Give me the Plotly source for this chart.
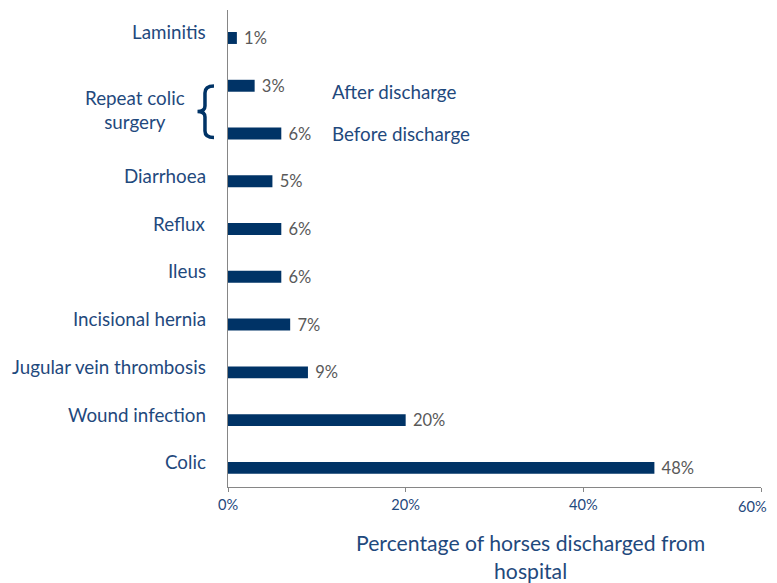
import plotly.graph_objects as go

# Data (top to bottom as shown)
categories = ["Laminitis", "After discharge", "Before discharge", "Diarrhoea", "Reflux",
              "Ileus", "Incisional hernia", "Jugular vein thrombosis", "Wound infection", "Colic"]
left_labels = ["Laminitis", "", "", "Diarrhoea", "Reflux",
               "Ileus", "Incisional hernia", "Jugular vein thrombosis", "Wound infection", "Colic"]
values = [1, 3, 6, 5, 6, 6, 7, 9, 20, 48]
group_label = "Repeat colic<br>surgery"
group_sub_labels = ["After discharge", "Before discharge"]
x_ticks = [0, 20, 40, 60]
x_title = "Percentage of horses discharged from<br>hospital"

BAR = "#003366"
TXT = "#1F497D"
GREY = "#595959"
FONT = "Lato"

# the page body adds an 8px offset; compensate so the plot lands at the reference pixels
OFF = 8
L, R, T, B = 228 - OFF, 16, 10 - OFF, 96

n = len(categories)
ypos = [n - 1 - i for i in range(n)]

fig = go.Figure()
fig.add_trace(go.Bar(
    x=values, y=ypos, orientation="h", width=0.25,
    marker=dict(color=BAR, line=dict(width=0)),
    text=[f"\u00a0{v}%" for v in values], textposition="outside", constraintext="none",
    textfont=dict(family=FONT, size=16.5, color=GREY),
    cliponaxis=False, hoverinfo="skip",
))

annotations = []
for lab, y in zip(left_labels, ypos):
    if lab:
        annotations.append(dict(x=0, xref="paper", y=y, yref="y", text=lab, showarrow=False,
                                xanchor="right", yanchor="middle", xshift=-20, yshift=6,
                                font=dict(family=FONT, size=18.8, color=TXT)))
# group label
annotations.append(dict(x=0, xref="paper", y=(ypos[1] + ypos[2]) / 2, yref="y", text=group_label,
                        showarrow=False, xanchor="right", yanchor="middle", xshift=-41, align="center",
                        font=dict(family=FONT, size=18.8, color=TXT)))
# sub labels
for lab, y, ys in zip(group_sub_labels, [ypos[1], ypos[2]], [-6, 0]):
    annotations.append(dict(x=0.191, xref="paper", y=y, yref="y", text=lab, showarrow=False,
                            xanchor="left", yanchor="middle", yshift=ys,
                            font=dict(family=FONT, size=18.8, color=TXT)))
# x-axis title
annotations.append(dict(x=0.567, xref="paper", y=-0.147, yref="paper", text=x_title, showarrow=False,
                        xanchor="center", yanchor="middle", align="center",
                        font=dict(family=FONT, size=21.2, color=TXT)))

# last tick label drawn as an annotation so it stays inside the visible page
tick_text = [f"{t}%" for t in x_ticks]
annotations.append(dict(x=x_ticks[-1], xref="x", y=0, yref="paper", text=tick_text[-1], showarrow=False,
                        xanchor="right", yanchor="top", xshift=8, yshift=-9,
                        font=dict(family=FONT, size=14.6, color=TXT)))
tick_text_axis = tick_text[:-1] + [""]

# brace decoration (pixel-designed, converted to paper-x / data-y)
def px(p):
    return (p - 228) / 533
def py(p):
    return 9 - (p - 38) / 47.8

pts = [("M", [(214, 86)]), ("Q", [(205, 86), (205, 93)]), ("L", [(205, 106)]),
       ("Q", [(205, 111.5), (197.5, 111.5)]), ("Q", [(205, 111.5), (205, 117)]),
       ("L", [(205, 131)]), ("Q", [(205, 137.5), (214, 137.5)])]
path = " ".join(c + " " + " ".join(f"{px(a):.4f},{py(b):.4f}" for a, b in ps) for c, ps in pts)
shapes = [dict(type="path", xref="paper", yref="y", path=path,
               line=dict(color=BAR, width=3.5))]

fig.update_layout(
    width=777 - OFF, height=583 - OFF,
    margin=dict(l=L, r=R, t=T, b=B),
    paper_bgcolor="white", plot_bgcolor="white",
    showlegend=False,
    annotations=annotations, shapes=shapes,
    xaxis=dict(range=[0, 60], tickvals=x_ticks, ticktext=tick_text_axis,
               showgrid=False, zeroline=False, showline=True, linecolor="#868686", linewidth=1,
               ticks="outside", ticklen=4, tickcolor="#868686", ticklabeloverflow="allow",
               tickfont=dict(family=FONT, size=14.6, color=TXT)),
    yaxis=dict(range=[-0.4, 9.586], showgrid=False, zeroline=False, showline=True,
               linecolor="#868686", linewidth=1, showticklabels=False, ticks=""),
)

fig.write_html("out.html")
